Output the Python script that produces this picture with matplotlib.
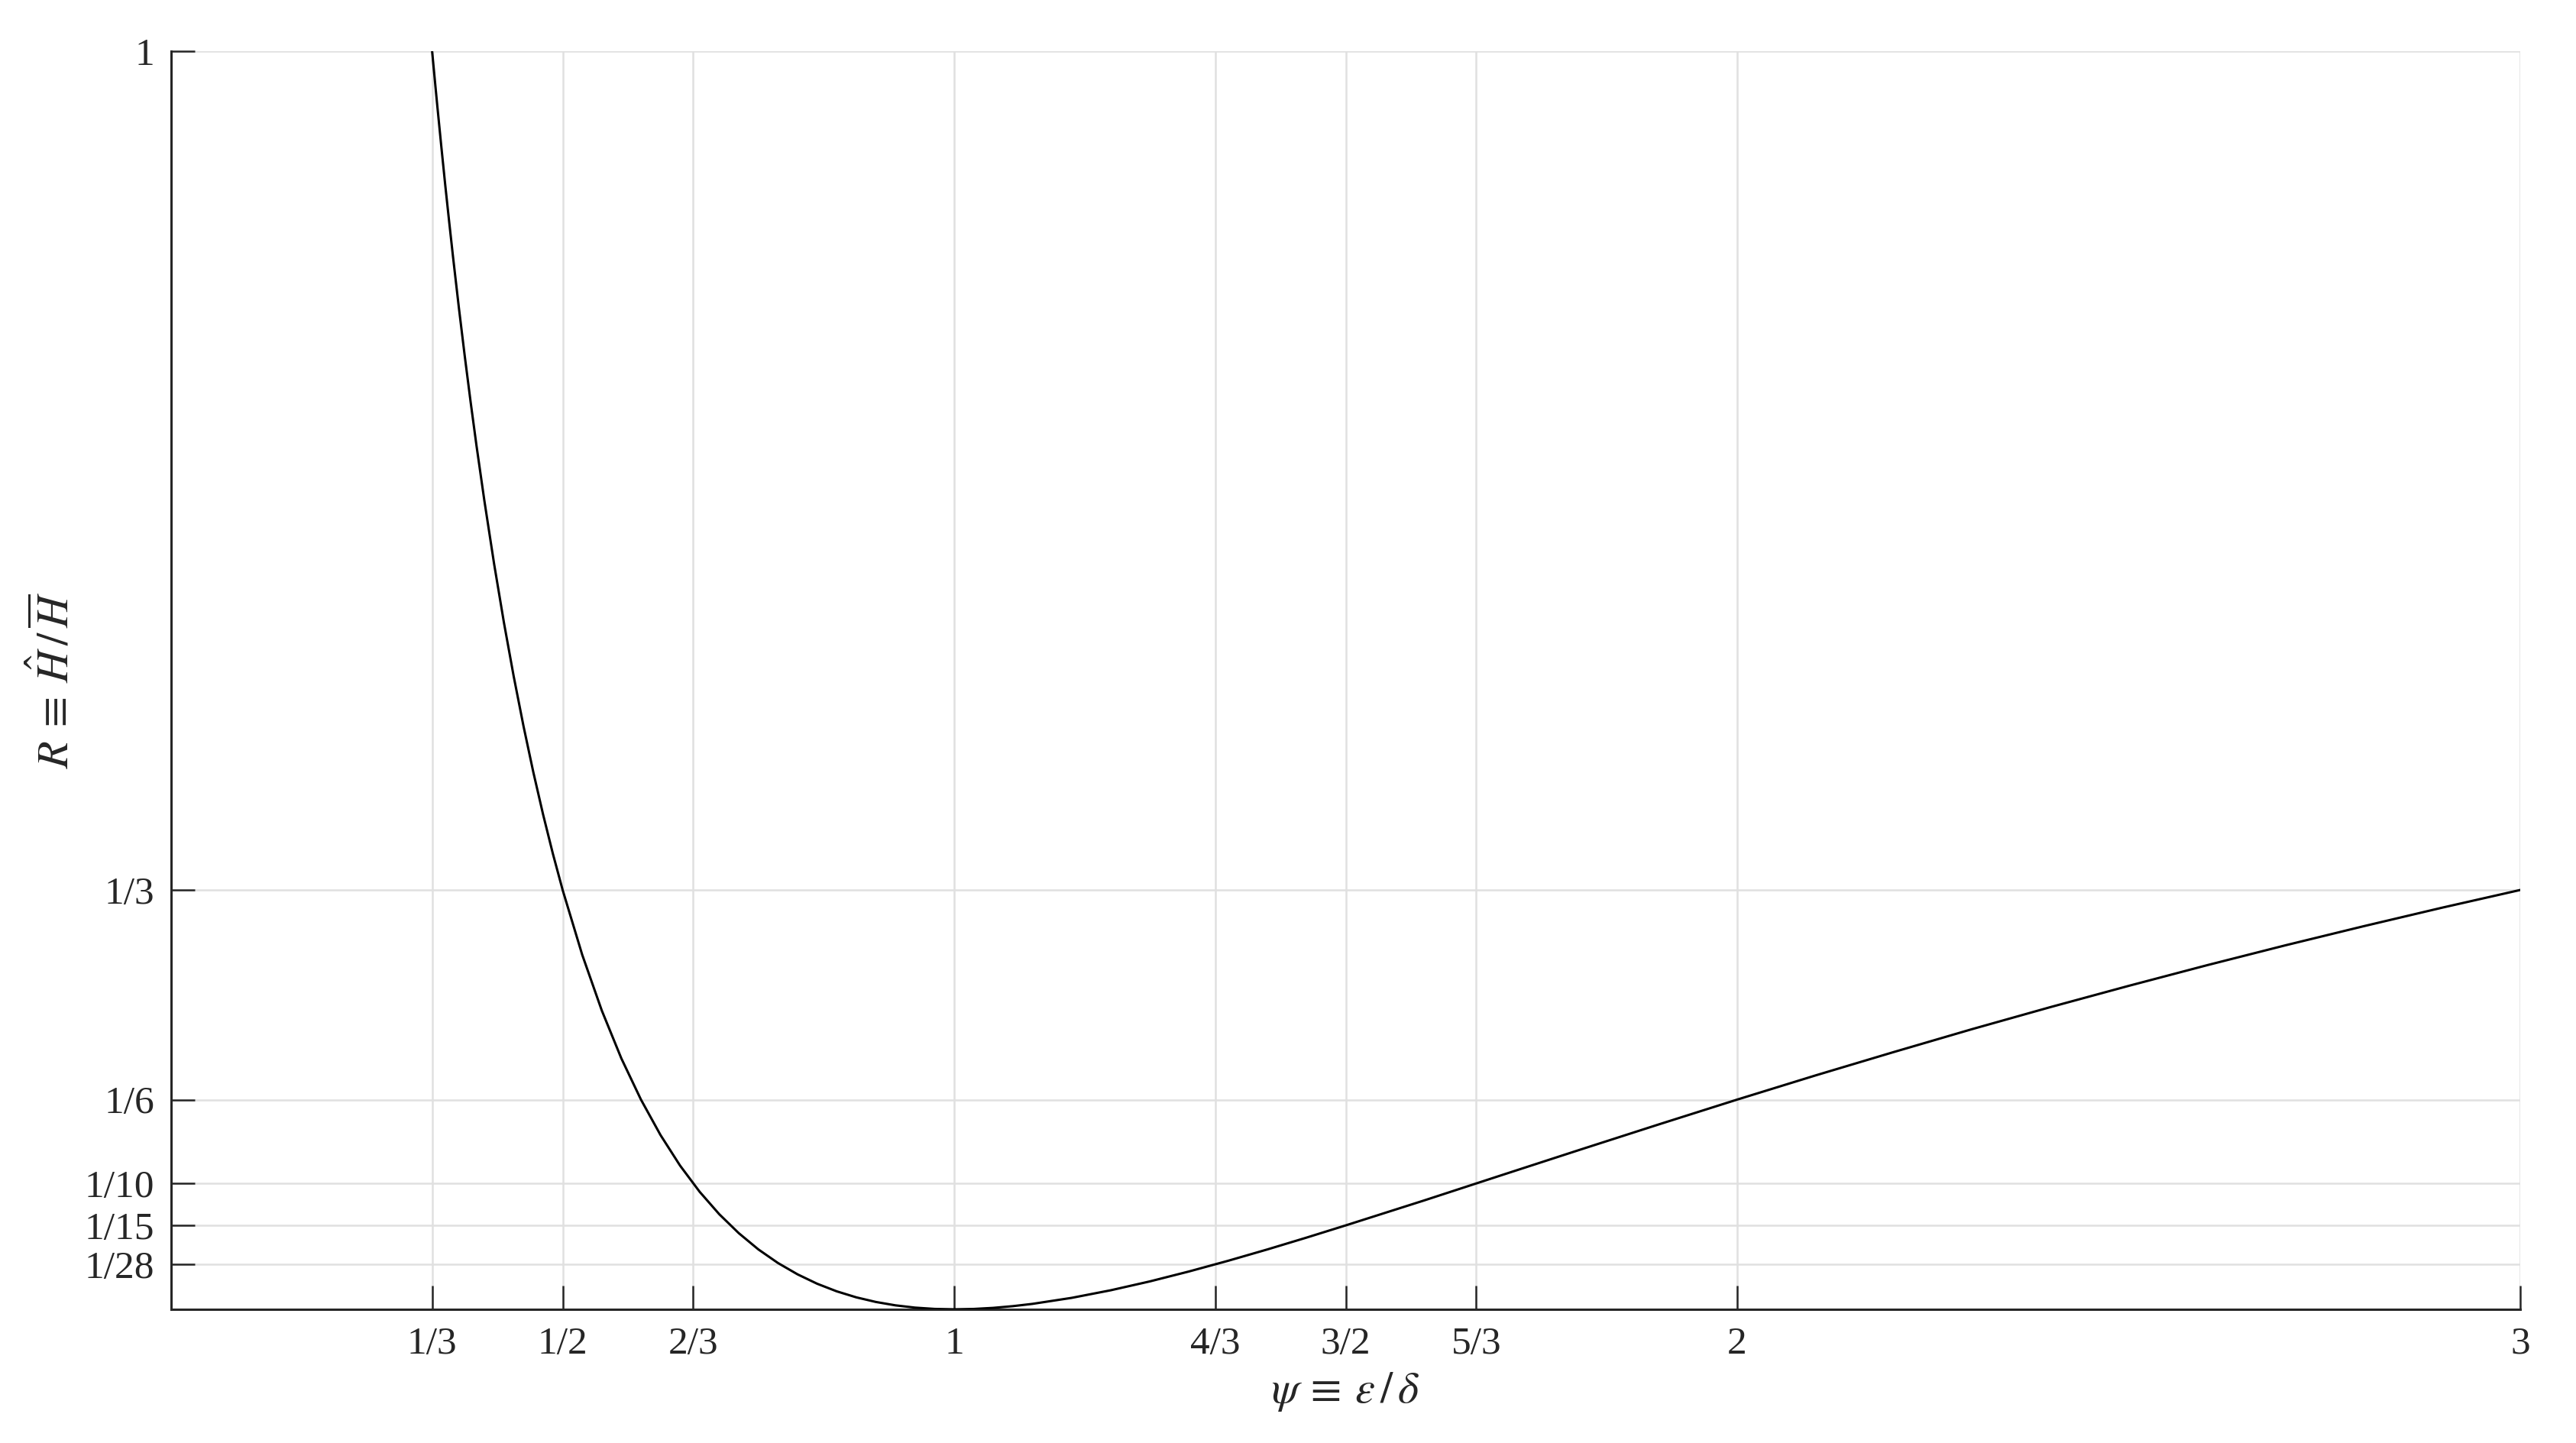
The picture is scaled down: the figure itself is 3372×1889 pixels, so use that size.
import matplotlib
matplotlib.use('Agg')
import matplotlib.pyplot as plt

# curve values
psi = [0.3333, 0.3375, 0.34, 0.345, 0.35, 0.355, 0.36, 0.3675, 0.375, 0.3825,
       0.39, 0.4, 0.4125, 0.425, 0.4375, 0.45, 0.4625, 0.475, 0.4875, 0.5,
       0.525, 0.55, 0.575, 0.6, 0.625, 0.65, 0.675, 0.7, 0.725, 0.75,
       0.775, 0.8, 0.825, 0.85, 0.875, 0.9, 0.925, 0.95, 0.975, 1.0,
       1.025, 1.05, 1.075, 1.1, 1.15, 1.2, 1.25, 1.3, 1.35, 1.4,
       1.45, 1.5, 1.6, 1.7, 1.8, 1.9, 2.0, 2.1, 2.2, 2.3,
       2.4, 2.5, 2.6, 2.7, 2.8, 2.9, 3.0]
R = [1.0, 0.9723, 0.9561, 0.9246, 0.894, 0.8649, 0.8366, 0.7960, 0.7576, 0.7211,
     0.6864, 0.6429, 0.5924, 0.5459, 0.5031, 0.4636, 0.4271, 0.3934, 0.3622, 0.3333,
     0.2818, 0.2375, 0.1994, 0.1667, 0.1385, 0.1142, 0.0934, 0.0756, 0.0605, 0.0476,
     0.0368, 0.0278, 0.02034, 0.0143, 0.00952, 0.00585, 0.00316, 0.00135, 0.000325, 0.0,
     0.000301, 0.00116, 0.00252, 0.00433, 0.0091, 0.01515, 0.0222, 0.0301, 0.0386, 0.0476,
     0.0570, 0.0667, 0.0865, 0.1068, 0.1270, 0.1470, 0.1667, 0.1859, 0.2045, 0.2227,
     0.2402, 0.2571, 0.2735, 0.2893, 0.3045, 0.3192, 0.3333]

xtick_vals = [1/3, 1/2, 2/3, 1, 4/3, 3/2, 5/3, 2, 3]
xtick_labels = ['1/3', '1/2', '2/3', '1', '4/3', '3/2', '5/3', '2', '3']
ytick_vals = [1/28, 1/15, 1/10, 1/6, 1/3, 1]
ytick_labels = ['1/28', '1/15', '1/10', '1/6', '1/3', '1']

plt.rcParams['font.family'] = ['Liberation Serif', 'DejaVu Serif']
plt.rcParams['mathtext.fontset'] = 'stix'

fig = plt.figure(figsize=(3372/200, 1889/200), dpi=200)
ax = fig.add_axes([224/3372, 1 - 1714/1889, (3299-224)/3372, (1714-67)/1889])

ax.plot(psi, R, color='k', lw=1.1, zorder=3)

ax.set_xlim(0, 3)
ax.set_ylim(0, 1)
ax.set_xticks(xtick_vals)
ax.set_xticklabels(xtick_labels)
ax.set_yticks(ytick_vals)
ax.set_yticklabels(ytick_labels)

ax.grid(True, color='#e0e0e0', lw=0.9, zorder=0)
ax.set_axisbelow(True)
for s in ['top', 'right']:
    ax.spines[s].set_visible(False)
for s in ['left', 'bottom']:
    ax.spines[s].set_color('#262626')
    ax.spines[s].set_linewidth(1.1)

ax.tick_params(direction='in', length=11, width=0.9, color='#262626',
               labelsize=18.5, labelcolor='#262626')
ax.tick_params(axis='x', pad=8)
ax.tick_params(axis='y', pad=8)

ax.set_xlabel(r'$\psi\:\equiv\:\varepsilon\,/\,\delta$', fontsize=21, color='#262626', labelpad=4)
ax.set_ylabel(r'$R\:\equiv\:\hat{H}\,/\,\overline{H}$', fontsize=21, color='#262626', labelpad=3)

fig.savefig('out.png', dpi=200, facecolor='white')
